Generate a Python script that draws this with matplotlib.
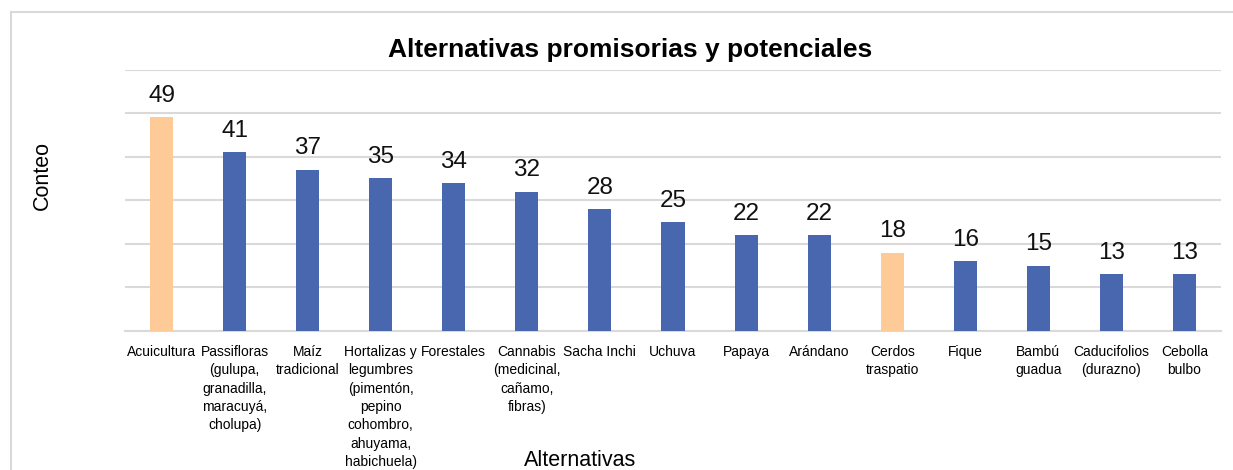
import numpy as np
import matplotlib
matplotlib.use("Agg")
import matplotlib.pyplot as plt
from matplotlib.lines import Line2D

plt.rcParams["font.family"] = ["Liberation Sans", "DejaVu Sans"]

# --- data ---
categories = [
    "Acuicultura",
    "Passifloras\n(gulupa,\ngranadilla,\nmaracuyá,\ncholupa)",
    "Maíz\ntradicional",
    "Hortalizas y\nlegumbres\n(pimentón,\npepino\ncohombro,\nahuyama,\nhabichuela)",
    "Forestales",
    "Cannabis\n(medicinal,\ncañamo,\nfibras)",
    "Sacha Inchi",
    "Uchuva",
    "Papaya",
    "Arándano",
    "Cerdos\ntraspatio",
    "Fique",
    "Bambú\nguadua",
    "Caducifolios\n(durazno)",
    "Cebolla\nbulbo",
]
counts = [49, 41, 37, 35, 34, 32, 28, 25, 22, 22, 18, 16, 15, 13, 13]
highlighted = ["Acuicultura", "Cerdos\ntraspatio"]

BLUE = "#4967AE"
ORANGE = "#FDCA98"
GRID = "#D9D9D9"

fig = plt.figure(figsize=(12.33, 4.70), dpi=100)
ax = fig.add_axes([125 / 1233, 1 - 331 / 470, 1096 / 1233, 261.5 / 470])

x = np.arange(len(categories))
colors = [ORANGE if c in highlighted else BLUE for c in categories]
ax.bar(x, counts, width=0.315, color=colors, zorder=3)

for xi, v in zip(x, counts):
    ax.annotate(str(v), (xi, v), xytext=(0, 11), textcoords="offset points",
                ha="center", va="baseline", fontsize=17.5, color="#111111")

ax.set_xlim(-0.5, len(categories) - 0.5)
ax.set_ylim(0, 60)
ax.set_yticks(np.arange(0, 61, 10))
ax.yaxis.grid(True, color=GRID, lw=1.5, zorder=0)
ax.tick_params(axis="y", left=False, labelleft=False)
ax.set_xticks(x)
ax.set_xticklabels(categories, fontsize=10, linespacing=1.4)
ax.tick_params(axis="x", length=0, pad=10)
for s in ["top", "right", "left"]:
    ax.spines[s].set_visible(False)
ax.spines["bottom"].set_color(GRID)
ax.spines["bottom"].set_linewidth(1.5)

# titles placed like the source chart
fig.text(630 / 1233, 1 - 50 / 470, "Alternativas promisorias y potenciales",
         ha="center", va="center", fontsize=19, fontweight="bold")
fig.text(580 / 1233, 1 - 460 / 470, "Alternativas", ha="center", va="center",
         fontsize=15.5)
fig.text(42 / 1233, 1 - 175 / 470, "Conteo", ha="center", va="center",
         fontsize=15.5, rotation=90)

# chart-area border (left and top visible in the crop)
fig.add_artist(Line2D([11 / 1233, 11 / 1233], [0, 1 - 12 / 470],
                      transform=fig.transFigure, color=GRID, lw=1.5))
fig.add_artist(Line2D([11 / 1233, 1], [1 - 12 / 470, 1 - 12 / 470],
                      transform=fig.transFigure, color=GRID, lw=1.5))

fig.savefig("out.png", dpi=100)
